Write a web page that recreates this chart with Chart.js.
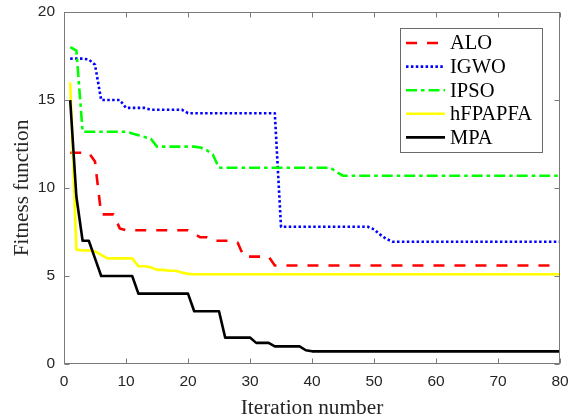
<!DOCTYPE html>
<html>
<head>
<meta charset="utf-8">
<title>Fitness function</title>
<script src="https://cdn.jsdelivr.net/npm/chart.js@4"></script>
<style>
  html, body { margin: 0; padding: 0; background: #fff; }
  #wrap { width: 569px; height: 420px; }
</style>
</head>
<body>
<div id="wrap"><canvas id="fitness" width="569" height="420"></canvas></div>
<script>
(function () {

// -------------------------------------------------------------------------------------------------------
// convergence data, one value per iteration

var iterations = Array.from({ length: 80 }, function (_, i) { return i + 1; });

var alo = [12.0, 12.0, 12.0, 12.0, 11.5, 8.5, 8.5, 8.5, 7.7, 7.6,
           7.6, 7.6, 7.6, 7.6, 7.6, 7.6, 7.6, 7.6, 7.6, 7.6,
           7.4, 7.2, 7.2, 7.0, 7.0, 7.0, 7.0, 6.9, 6.1, 6.1,
           6.1, 6.1, 6.1, 5.6, 5.6, 5.6, 5.6, 5.6, 5.6, 5.6,
           5.6, 5.6, 5.6, 5.6, 5.6, 5.6, 5.6, 5.6, 5.6, 5.6,
           5.6, 5.6, 5.6, 5.6, 5.6, 5.6, 5.6, 5.6, 5.6, 5.6,
           5.6, 5.6, 5.6, 5.6, 5.6, 5.6, 5.6, 5.6, 5.6, 5.6,
           5.6, 5.6, 5.6, 5.6, 5.6, 5.6, 5.6, 5.6, 5.6, 5.6];

var igwo = [17.35, 17.35, 17.35, 17.3, 17.0, 15.0, 15.0, 15.0, 15.0, 14.55,
            14.55, 14.55, 14.55, 14.45, 14.45, 14.45, 14.45, 14.45, 14.45, 14.25,
            14.25, 14.25, 14.25, 14.25, 14.25, 14.25, 14.25, 14.25, 14.25, 14.25,
            14.25, 14.25, 14.25, 14.25, 7.8, 7.8, 7.8, 7.8, 7.8, 7.8,
            7.8, 7.8, 7.8, 7.8, 7.8, 7.8, 7.8, 7.8, 7.8, 7.65,
            7.35, 7.1, 6.95, 6.95, 6.95, 6.95, 6.95, 6.95, 6.95, 6.95,
            6.95, 6.95, 6.95, 6.95, 6.95, 6.95, 6.95, 6.95, 6.95, 6.95,
            6.95, 6.95, 6.95, 6.95, 6.95, 6.95, 6.95, 6.95, 6.95, 6.95];

var ipso = [18.0, 17.8, 13.2, 13.2, 13.2, 13.2, 13.2, 13.2, 13.2, 13.2,
            13.1, 13.0, 12.9, 12.8, 12.35, 12.35, 12.35, 12.35, 12.35, 12.35,
            12.35, 12.3, 12.15, 11.9, 11.15, 11.15, 11.15, 11.15, 11.15, 11.15,
            11.15, 11.15, 11.15, 11.15, 11.15, 11.15, 11.15, 11.15, 11.15, 11.15,
            11.15, 11.15, 11.15, 10.9, 10.7, 10.7, 10.7, 10.7, 10.7, 10.7,
            10.7, 10.7, 10.7, 10.7, 10.7, 10.7, 10.7, 10.7, 10.7, 10.7,
            10.7, 10.7, 10.7, 10.7, 10.7, 10.7, 10.7, 10.7, 10.7, 10.7,
            10.7, 10.7, 10.7, 10.7, 10.7, 10.7, 10.7, 10.7, 10.7, 10.7];

var hfpapfa = [16.0, 6.5, 6.45, 6.45, 6.4, 6.2, 6.0, 6.0, 6.0, 6.0,
               6.0, 5.55, 5.55, 5.5, 5.35, 5.35, 5.3, 5.3, 5.2, 5.12,
               5.1, 5.1, 5.1, 5.1, 5.1, 5.1, 5.1, 5.1, 5.1, 5.1,
               5.1, 5.1, 5.1, 5.1, 5.1, 5.1, 5.1, 5.1, 5.1, 5.1,
               5.1, 5.1, 5.1, 5.1, 5.1, 5.1, 5.1, 5.1, 5.1, 5.1,
               5.1, 5.1, 5.1, 5.1, 5.1, 5.1, 5.1, 5.1, 5.1, 5.1,
               5.1, 5.1, 5.1, 5.1, 5.1, 5.1, 5.1, 5.1, 5.1, 5.1,
               5.1, 5.1, 5.1, 5.1, 5.1, 5.1, 5.1, 5.1, 5.1, 5.1];

var mpa = [15.0, 9.5, 7.0, 7.0, 6.0, 5.0, 5.0, 5.0, 5.0, 5.0,
           5.0, 4.0, 4.0, 4.0, 4.0, 4.0, 4.0, 4.0, 4.0, 4.0,
           3.0, 3.0, 3.0, 3.0, 3.0, 1.5, 1.5, 1.5, 1.5, 1.5,
           1.2, 1.2, 1.2, 1.0, 1.0, 1.0, 1.0, 1.0, 0.78, 0.72,
           0.72, 0.72, 0.72, 0.72, 0.72, 0.72, 0.72, 0.72, 0.72, 0.72,
           0.72, 0.72, 0.72, 0.72, 0.72, 0.72, 0.72, 0.72, 0.72, 0.72,
           0.72, 0.72, 0.72, 0.72, 0.72, 0.72, 0.72, 0.72, 0.72, 0.72,
           0.72, 0.72, 0.72, 0.72, 0.72, 0.72, 0.72, 0.72, 0.72, 0.72];

var seriesNames = ['ALO', 'IGWO', 'IPSO', 'hFPAPFA', 'MPA'];
var xTicks = [0, 10, 20, 30, 40, 50, 60, 70, 80];
var yTicks = [0, 5, 10, 15, 20];

// -------------------------------------------------------------------------------------------------------

var TICK_FONT = { family: "'Liberation Sans', Arial, sans-serif", size: 15.5 };
var SERIF = "'Liberation Serif', 'Times New Roman', serif";
var LEGEND_FONT = "20.5px " + SERIF;
var AXIS_COLOR = '#262626';

function points(values) {
    return values.map(function (v, i) { return { x: iterations[i], y: v }; });
}

function series(idx, values, color, dash, order) {
    return {
        label: seriesNames[idx],
        data: points(values),
        borderColor: color,
        backgroundColor: color,
        borderWidth: 2.6,
        borderDash: dash,
        borderCapStyle: 'butt',
        borderJoinStyle: 'round',
        pointRadius: 0,
        tension: 0,
        fill: false,
        order: order
    };
}

// box, inward ticks on all four sides and the legend, matlab style
var axesBox = {
    id: 'axesBox',
    afterDraw: function (chart) {
        var ctx = chart.ctx, a = chart.chartArea;
        var xs = chart.scales.x, ys = chart.scales.y;
        var L = Math.round(a.left) + 0.5, R = Math.round(a.right) - 0.5;
        var T = Math.round(a.top) + 0.5, B = Math.round(a.bottom) - 0.5;
        var tl = 5;

        ctx.save();
        ctx.strokeStyle = '#7a7a7a';
        ctx.lineWidth = 1;
        ctx.setLineDash([]);
        ctx.strokeRect(L, T, R - L, B - T);

        ctx.beginPath();
        xTicks.forEach(function (v) {
            var px = Math.round(xs.getPixelForValue(v)) + 0.5;
            ctx.moveTo(px, B); ctx.lineTo(px, B - tl);
            ctx.moveTo(px, T); ctx.lineTo(px, T + tl);
        });
        yTicks.forEach(function (v) {
            var py = Math.round(ys.getPixelForValue(v)) + 0.5;
            ctx.moveTo(L, py); ctx.lineTo(L + tl, py);
            ctx.moveTo(R, py); ctx.lineTo(R - tl, py);
        });
        ctx.stroke();

        // legend
        var bx = 400.5, by = 28.5, bw = 142, bh = 124;
        ctx.fillStyle = '#fff';
        ctx.fillRect(bx, by, bw, bh);
        ctx.strokeStyle = '#6a6a6a';
        ctx.strokeRect(bx, by, bw, bh);

        var rowY = by + 14.5, rowH = 23.6;
        ctx.font = LEGEND_FONT;
        ctx.textBaseline = 'middle';
        ctx.textAlign = 'left';
        chart.data.datasets.forEach(function (ds, i) {
            var y = rowY + i * rowH;
            ctx.beginPath();
            ctx.strokeStyle = ds.borderColor;
            ctx.lineWidth = ds.borderWidth;
            ctx.lineCap = 'butt';
            ctx.setLineDash(ds.borderDash || []);
            ctx.moveTo(406, y);
            ctx.lineTo(445, y);
            ctx.stroke();
            ctx.setLineDash([]);
            ctx.fillStyle = '#000';
            ctx.fillText(ds.label, 450, y + 1);
        });
        ctx.restore();
    }
};

var canvas = document.getElementById('fitness');
var ctx = canvas.getContext('2d');

new Chart(ctx, {
    type: 'line',
    data: {
        datasets: [
            series(0, alo, '#ff0000', [11, 10], 5),
            series(1, igwo, '#0000ff', [2.5, 2.4], 4),
            series(2, ipso, '#00ff00', [11, 4, 3.5, 4], 3),
            series(3, hfpapfa, '#ffff00', [], 2),
            series(4, mpa, '#000000', [], 1)
        ]
    },
    options: {
        responsive: false,
        animation: false,
        events: [],
        layout: { padding: { top: 12, right: 9, left: 0, bottom: 0 } },
        plugins: {
            legend: { display: false },
            tooltip: { enabled: false }
        },
        scales: {
            x: {
                type: 'linear',
                min: 0,
                max: 80,
                afterBuildTicks: function (s) { s.ticks = xTicks.map(function (v) { return { value: v }; }); },
                afterFit: function (s) { s.height = 56; s.paddingLeft = 0; s.paddingRight = 0; },
                grid: { display: false, drawTicks: false },
                border: { display: false },
                ticks: { font: TICK_FONT, color: AXIS_COLOR, padding: 8, maxRotation: 0 },
                title: { display: true, text: 'Iteration number', color: AXIS_COLOR,
                         font: { family: SERIF, size: 21.3, lineHeight: 1.05 },
                         padding: { top: 0, bottom: 0 } }
            },
            y: {
                type: 'linear',
                min: 0,
                max: 20,
                afterBuildTicks: function (s) { s.ticks = yTicks.map(function (v) { return { value: v }; }); },
                afterFit: function (s) { s.width = 64; s.paddingTop = 0; s.paddingBottom = 0; },
                grid: { display: false, drawTicks: false },
                border: { display: false },
                ticks: { font: TICK_FONT, color: AXIS_COLOR, padding: 9 },
                title: { display: true, text: 'Fitness function', color: AXIS_COLOR,
                         font: { family: SERIF, size: 21.3, lineHeight: 1.2 },
                         padding: { top: 10, bottom: 0 } }
            }
        }
    },
    plugins: [axesBox]
});

// -------------------------------------------------------------------------------------------------------

})();
</script>
</body>
</html>
